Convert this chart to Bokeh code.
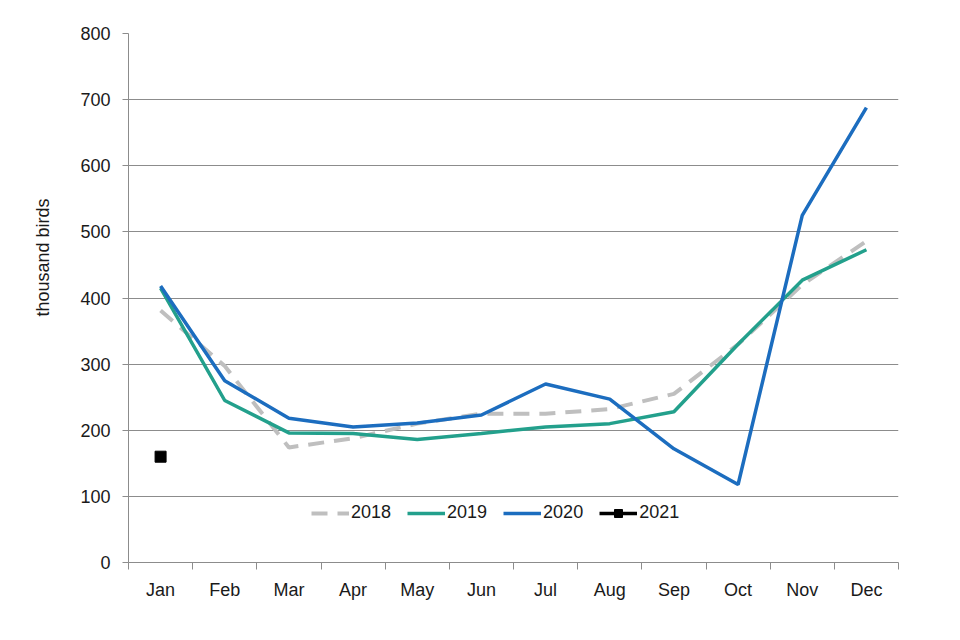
from bokeh.plotting import figure
from bokeh.models import FixedTicker, Range1d, Legend, LegendItem, Title
from bokeh.embed import file_html
from bokeh.resources import INLINE

months = ["Jan", "Feb", "Mar", "Apr", "May", "Jun", "Jul", "Aug", "Sep", "Oct", "Nov", "Dec"]
x_pos = [1, 2, 3, 4, 5, 6, 7, 8, 9, 10, 11, 12]
y2018 = [381, 297, 174, 188, 210, 225, 225, 232, 255, 330, 420, 486]
y2019 = [415, 245, 196, 195, 186, 195, 205, 210, 228, 330, 427, 473]
y2020 = [418, 275, 218, 205, 211, 223, 270, 247, 172, 118, 525, 688]
x2021 = [1]
y2021 = [160]
y_ticks = [0, 100, 200, 300, 400, 500, 600, 700, 800]

FONT = "Liberation Sans"
FS = "18px"
GRID = "#8c8c8c"

p = figure(width=944, height=624, output_backend="svg", toolbar_location=None,
           x_range=Range1d(0.5, 12.5), y_range=Range1d(0, 800),
           min_border_left=128, min_border_right=46, min_border_top=33, min_border_bottom=62)
p.outline_line_color = None
p.background_fill_color = "white"

r18 = p.line(x_pos, y2018, line_color="#bfbfbf", line_width=4, line_dash="16 10")
r19 = p.line(x_pos, y2019, line_color="#23a08c", line_width=3.5)
r20 = p.line(x_pos, y2020, line_color="#1c6dbf", line_width=3.5)
r21l = p.line(x2021, y2021, line_color="black", line_width=3.5)
r21 = p.scatter(x2021, y2021, marker="square", size=11, fill_color="black", line_color="black")

# axes
p.xaxis.ticker = FixedTicker(ticks=x_pos, minor_ticks=[i + 0.5 for i in range(0, 13)])
p.xaxis.major_label_overrides = {i: m for i, m in zip(x_pos, months)}
p.xaxis.major_tick_line_color = None
p.xaxis.minor_tick_line_color = GRID
p.xaxis.minor_tick_out = 7
p.xaxis.minor_tick_in = 0
p.xaxis.axis_line_color = GRID
p.xaxis.major_label_text_font = FONT
p.xaxis.major_label_text_font_size = FS
p.xaxis.major_label_text_color = "#1a1a1a"
p.xaxis.major_label_standoff = 10

p.yaxis.ticker = FixedTicker(ticks=y_ticks)
p.yaxis.minor_tick_line_color = None
p.yaxis.major_tick_line_color = GRID
p.yaxis.major_tick_out = 6
p.yaxis.major_tick_in = 0
p.yaxis.axis_line_color = GRID
p.yaxis.major_label_text_font = FONT
p.yaxis.major_label_text_font_size = FS
p.yaxis.major_label_text_color = "#1a1a1a"
p.yaxis.major_label_standoff = 12

ytitle = Title(text="thousand birds", align="left", offset=246, standoff=50,
               text_font=FONT, text_font_size=FS, text_font_style="normal",
               text_color="#1a1a1a")
p.add_layout(ytitle, "left")

p.xgrid.grid_line_color = None
p.ygrid.grid_line_color = GRID
p.ygrid.grid_line_width = 1

legend = Legend(items=[
    LegendItem(label="2018", renderers=[r18]),
    LegendItem(label="2019", renderers=[r19]),
    LegendItem(label="2020", renderers=[r20]),
    LegendItem(label="2021", renderers=[r21l, r21]),
], orientation="horizontal", location=(183, 39))
legend.background_fill_color = "white"
legend.background_fill_alpha = 1
legend.border_line_color = None
legend.label_text_font = FONT
legend.label_text_font_size = FS
legend.label_text_color = "#1a1a1a"
legend.glyph_width = 38
legend.spacing = 16
legend.label_standoff = 2
legend.padding = 12
legend.margin = 0
p.add_layout(legend, "center")

open("out.html", "w").write(file_html(p, INLINE))
